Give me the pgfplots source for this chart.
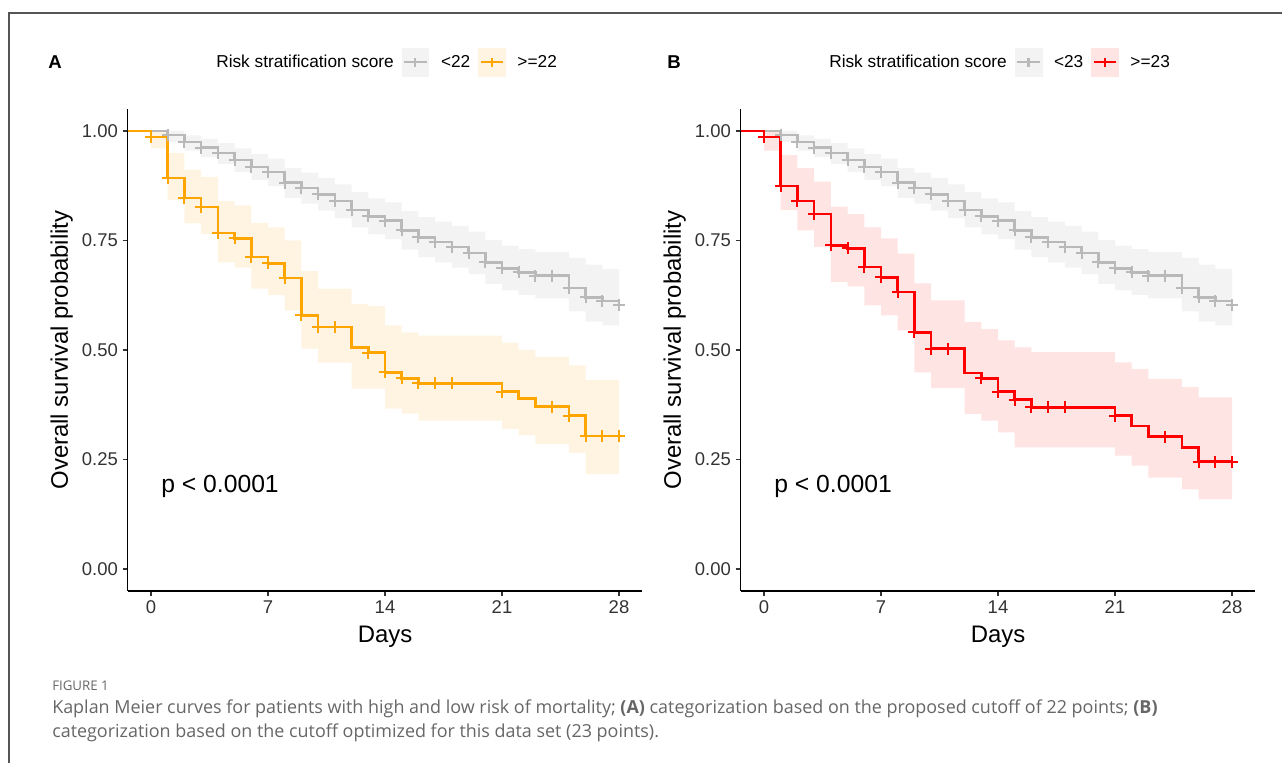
\documentclass[border=0pt]{standalone}
\usepackage{fontspec}
\setmainfont{Liberation Sans}
\newfontfamily\capfont{Open Sans}
\usepackage{pgfplots}
\usepackage{pgfplotstable}
\pgfplotsset{compat=1.18}
\usepgfplotslibrary{fillbetween}

\definecolor{kmgray}{HTML}{B9B9B9}
\definecolor{kmgraybg}{HTML}{F3F3F3}
\definecolor{kmorange}{HTML}{FFA500}
\definecolor{kmorangebg}{HTML}{FFF4E2}
\definecolor{kmred}{HTML}{FF0000}
\definecolor{kmredbg}{HTML}{FFE4E4}
\definecolor{captxt}{HTML}{666666}
\definecolor{axtxt}{HTML}{333333}
\definecolor{framecol}{HTML}{555555}

% t = day, s = survival, lo/hi = confidence band
\pgfplotstableread{
t s lo hi
-1.4 1.000 1.000 1.000
1 0.991 0.975 1.000
2 0.975 0.955 0.990
3 0.962 0.940 0.982
4 0.950 0.925 0.972
5 0.934 0.906 0.960
6 0.918 0.888 0.947
7 0.906 0.874 0.937
8 0.882 0.847 0.915
9 0.870 0.834 0.905
10 0.855 0.818 0.892
11 0.840 0.801 0.878
12 0.820 0.780 0.860
13 0.805 0.764 0.846
14 0.795 0.753 0.837
15 0.773 0.729 0.817
16 0.757 0.712 0.803
17 0.746 0.700 0.793
18 0.735 0.688 0.783
19 0.721 0.673 0.770
20 0.700 0.651 0.751
21 0.686 0.636 0.738
22 0.677 0.626 0.730
23 0.670 0.618 0.724
25 0.642 0.588 0.710
26 0.620 0.565 0.695
27 0.612 0.556 0.685
28 0.602 0.545 0.680
}\lowrisk

\pgfplotstableread{
t s
1 0.991
2 0.975
3 0.962
4 0.950
5 0.934
6 0.918
7 0.906
8 0.882
9 0.870
10 0.855
11 0.840
12 0.820
13 0.805
14 0.795
15 0.773
16 0.757
17 0.746
18 0.735
19 0.721
20 0.700
21 0.686
22 0.677
23 0.670
24 0.670
25 0.642
26 0.620
27 0.612
28 0.602
}\lowcens

\pgfplotstableread{
t s lo hi
-1.4 1.000 1.000 1.000
0 0.986 0.960 1.000
1 0.892 0.842 0.950
2 0.847 0.789 0.911
3 0.826 0.765 0.895
4 0.767 0.700 0.840
5 0.755 0.688 0.830
6 0.712 0.640 0.790
7 0.698 0.625 0.780
8 0.664 0.590 0.750
9 0.579 0.503 0.680
10 0.552 0.471 0.640
12 0.506 0.412 0.605
13 0.494 0.412 0.600
14 0.449 0.366 0.556
15 0.435 0.355 0.540
16 0.424 0.339 0.533
21 0.405 0.320 0.517
22 0.389 0.305 0.500
23 0.371 0.285 0.485
25 0.350 0.265 0.465
26 0.304 0.217 0.432
28 0.304 0.217 0.432
}\highA

\pgfplotstableread{
t s
0 0.986
1 0.892
2 0.847
3 0.826
4 0.767
5 0.755
6 0.712
7 0.698
8 0.664
9 0.579
10 0.552
11 0.552
13 0.494
14 0.449
15 0.435
16 0.424
17 0.424
18 0.424
21 0.405
24 0.371
25 0.350
26 0.304
27 0.304
28 0.304
}\highAcens

\pgfplotstableread{
t s lo hi
-1.4 1.000 1.000 1.000
0 0.986 0.955 1.000
1 0.874 0.819 0.945
2 0.840 0.773 0.915
3 0.810 0.735 0.884
4 0.739 0.655 0.827
5 0.732 0.645 0.810
6 0.689 0.602 0.780
7 0.666 0.579 0.755
8 0.632 0.545 0.720
9 0.540 0.449 0.652
10 0.503 0.413 0.613
12 0.447 0.354 0.564
13 0.435 0.339 0.548
14 0.405 0.312 0.522
15 0.387 0.278 0.506
16 0.369 0.278 0.495
21 0.350 0.259 0.472
22 0.327 0.236 0.457
23 0.302 0.209 0.434
25 0.277 0.182 0.415
26 0.245 0.159 0.392
28 0.245 0.159 0.392
}\highB

\pgfplotstableread{
t s
0 0.986
1 0.874
2 0.840
3 0.810
4 0.739
5 0.732
6 0.689
7 0.666
8 0.632
9 0.540
10 0.503
11 0.503
13 0.435
14 0.405
15 0.387
16 0.369
17 0.369
18 0.369
21 0.350
24 0.302
26 0.245
27 0.245
28 0.245
}\highBcens

\pgfplotsset{
  kmaxis/.style={
    scale only axis, width=386.1bp, height=361.5bp,
    xmin=-1.4, xmax=29.4, ymin=-0.05, ymax=1.05,
    axis lines=left, axis line style={-, line width=0.9bp, black},
    xtick={0,7,14,21,28}, xticklabels={0,7,14,21,28},
    ytick={0,0.25,0.5,0.75,1}, yticklabels={0.00,0.25,0.50,0.75,1.00},
    tick align=outside, major tick length=3.8bp,
    tick style={line width=0.9bp, axtxt},
    ticklabel style={font=\fontsize{13.9}{16}\selectfont, text=axtxt},
    xlabel={Days}, ylabel={Overall survival probability},
    label style={font=\fontsize{18}{21}\selectfont, text=black},
    xlabel style={at={(axis description cs:0.5,-0.0954)}, anchor=center},
    ylabel style={at={(axis description cs:-0.128,0.5)}, anchor=center},
    legend columns=-1,
    legend style={draw=none, fill=none, at={(0.494,1.097)}, anchor=center,
      font=\fontsize{13}{15}\selectfont,
      /tikz/every odd column/.append style={column sep=7bp},
      /tikz/every even column/.append style={column sep=4bp}},
  },
  kmline/.style={const plot, line width=1.9bp, #1},
  kmcens/.style={only marks, mark=+, mark size=4.5bp, mark options={line width=1.5bp, #1}},
}

\begin{document}
\begin{tikzpicture}
% page = 1282 x 763 px at 0.75bp per px
\path (0,0) rectangle (961.5bp,572.25bp);

\begin{scope}[x=0.75bp, y=-0.75bp, yshift=572.25bp]
  \begin{scope}
    \clip (0,0) rectangle (1282,763);
    \draw[framecol, line width=1bp] (9,790) -- (9,13) -- (1300,13);
  \end{scope}
  \node[font=\bfseries\fontsize{14}{16}\selectfont] at (55,62) {A};
  \node[font=\bfseries\fontsize{14}{16}\selectfont] at (674,62) {B};
  \node[anchor=west, inner sep=0, text=captxt, font=\capfont\fontsize{10}{12}\selectfont] at (52,686) {FIGURE 1};
  \node[anchor=west, inner sep=0, text=captxt, font=\capfont\fontsize{13.5}{16}\selectfont] at (52,709)
    {Kaplan Meier curves for patients with high and low risk of mortality; \textbf{(A)} categorization based on the proposed cutoff of 22 points; \textbf{(B)}};
  \node[anchor=west, inner sep=0, text=captxt, font=\capfont\fontsize{13.5}{16}\selectfont] at (52,733)
    {categorization based on the cutoff optimized for this data set (23 points).};
\end{scope}

% panel A
\begin{axis}[kmaxis, at={(95.7bp,129bp)}, anchor=south west]
  \addlegendimage{empty legend}\addlegendentry{Risk stratification score}
  \addlegendimage{legend image code/.code={\fill[kmgraybg] (0bp,-10.5bp) rectangle (20bp,10.5bp);
    \draw[kmgray, line width=1.6bp] (1.5bp,0bp) -- (18.5bp,0bp) (10bp,-3.5bp) -- (10bp,3.5bp);}}
  \addlegendentry{<22}
  \addlegendimage{legend image code/.code={\fill[kmorangebg] (0bp,-10.5bp) rectangle (20bp,10.5bp);
    \draw[kmorange, line width=1.6bp] (1.5bp,0bp) -- (18.5bp,0bp) (10bp,-3.5bp) -- (10bp,3.5bp);}}
  \addlegendentry{>=22}

  \addplot[const plot, draw=none, name path=ghA] table[x=t, y=hi] {\lowrisk};
  \addplot[const plot, draw=none, name path=glA] table[x=t, y=lo] {\lowrisk};
  \addplot[fill=kmgraybg, draw=none] fill between[of=ghA and glA];
  \addplot[const plot, draw=none, name path=ohA] table[x=t, y=hi] {\highA};
  \addplot[const plot, draw=none, name path=olA] table[x=t, y=lo] {\highA};
  \addplot[fill=kmorangebg, draw=none] fill between[of=ohA and olA];

  \addplot[kmline=kmgray] table[x=t, y=s] {\lowrisk};
  \addplot[kmcens=kmgray] table[x=t, y=s] {\lowcens};
  \addplot[kmline=kmorange] table[x=t, y=s] {\highA};
  \addplot[kmcens=kmorange] table[x=t, y=s] {\highAcens};

  \node[anchor=west, inner sep=0, font=\fontsize{18.6}{21}\selectfont] at (axis cs:0.6,0.188) {p < 0.0001};
\end{axis}

% panel B
\begin{axis}[kmaxis, at={(555.45bp,129bp)}, anchor=south west]
  \addlegendimage{empty legend}\addlegendentry{Risk stratification score}
  \addlegendimage{legend image code/.code={\fill[kmgraybg] (0bp,-10.5bp) rectangle (20bp,10.5bp);
    \draw[kmgray, line width=1.6bp] (1.5bp,0bp) -- (18.5bp,0bp) (10bp,-3.5bp) -- (10bp,3.5bp);}}
  \addlegendentry{<23}
  \addlegendimage{legend image code/.code={\fill[kmredbg] (0bp,-10.5bp) rectangle (20bp,10.5bp);
    \draw[kmred, line width=1.6bp] (1.5bp,0bp) -- (18.5bp,0bp) (10bp,-3.5bp) -- (10bp,3.5bp);}}
  \addlegendentry{>=23}

  \addplot[const plot, draw=none, name path=ghB] table[x=t, y=hi] {\lowrisk};
  \addplot[const plot, draw=none, name path=glB] table[x=t, y=lo] {\lowrisk};
  \addplot[fill=kmgraybg, draw=none] fill between[of=ghB and glB];
  \addplot[const plot, draw=none, name path=rhB] table[x=t, y=hi] {\highB};
  \addplot[const plot, draw=none, name path=rlB] table[x=t, y=lo] {\highB};
  \addplot[fill=kmredbg, draw=none] fill between[of=rhB and rlB];

  \addplot[kmline=kmgray] table[x=t, y=s] {\lowrisk};
  \addplot[kmcens=kmgray] table[x=t, y=s] {\lowcens};
  \addplot[kmline=kmred] table[x=t, y=s] {\highB};
  \addplot[kmcens=kmred] table[x=t, y=s] {\highBcens};

  \node[anchor=west, inner sep=0, font=\fontsize{18.6}{21}\selectfont] at (axis cs:0.6,0.188) {p < 0.0001};
\end{axis}
\end{tikzpicture}
\end{document}
